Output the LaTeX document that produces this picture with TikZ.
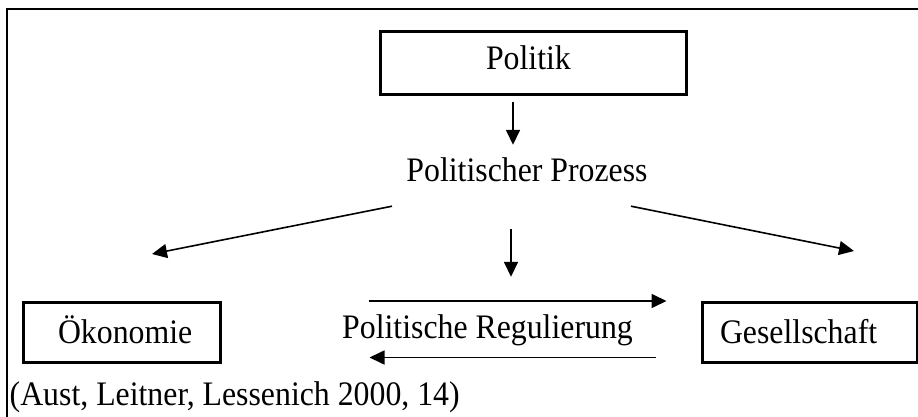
\documentclass[tikz,border=0pt]{standalone}
\usepackage{fontspec}
\setmainfont{Liberation Serif}
\usetikzlibrary{arrows.meta}
\newcommand\tallt[1]{\scalebox{1}[1.08]{#1}}
\begin{document}
\begin{tikzpicture}[x=1pt,y=1pt,
  every node/.style={font=\fontsize{31.8pt}{38pt}\selectfont, inner sep=0pt},
  boxnode/.style={draw, line width=3pt, align=left},
  txt/.style={text height=22pt, text depth=7pt, anchor=base},
  arr/.style={line width=1.6pt, -{Triangle[length=15pt,width=14pt]}}]
\useasboundingbox (0,0) rectangle (918,416);
% frame
\draw[line width=2pt, line join=miter] (925,406.5) -- (6.7,406.5) -- (6.7,-5);
% nodes
\node[boxnode, text width=94pt, inner xsep=106pt, text height=38pt, text depth=24pt] (politik) at (533,353) {\tallt{Politik}};
\node[txt] (prozess) at (527,235) {\tallt{Politischer Prozess}};
\node[boxnode, text width=127pt, inner xsep=35pt, text height=41pt, text depth=19pt] (oeko) at (121.5,83.5) {\makebox[127pt][l]{\tallt{Ökonomie}}};
\node[boxnode, text width=179pt, inner xsep=18pt, text height=41pt, text depth=19pt] (gesell) at (809.5,83.5) {\tallt{Gesellschaft}};
\node[txt] (reg) at (487.5,78) {\tallt{Politische Regulierung}};
\node[txt, anchor=base west] (quelle) at (9.5,11) {\tallt{(Aust, Leitner, Lessenich 2000, 14)}};
% connectors
\draw[arr] ([xshift=-20pt,yshift=-6pt]politik.south) -- ([xshift=-14pt,yshift=14pt]prozess.north);
\draw[arr] ([xshift=-16pt,yshift=-41pt]prozess.south) -- ([xshift=23.5pt,yshift=39pt]reg.north);
\draw[arr] ([xshift=-135pt,yshift=-18pt]prozess.south) -- ([xshift=30.5pt,yshift=47pt]oeko.north);
\draw[arr] ([xshift=104pt,yshift=-18pt]prozess.south) -- ([xshift=44.5pt,yshift=50pt]gesell.north);
\draw[arr] ([xshift=147pt]oeko.north east) -- ([xshift=-34pt]gesell.north west);
\draw[arr] ([xshift=-45pt,yshift=6.5pt]gesell.south west) -- ([xshift=148pt,yshift=6.5pt]oeko.south east);
\end{tikzpicture}
\end{document}
